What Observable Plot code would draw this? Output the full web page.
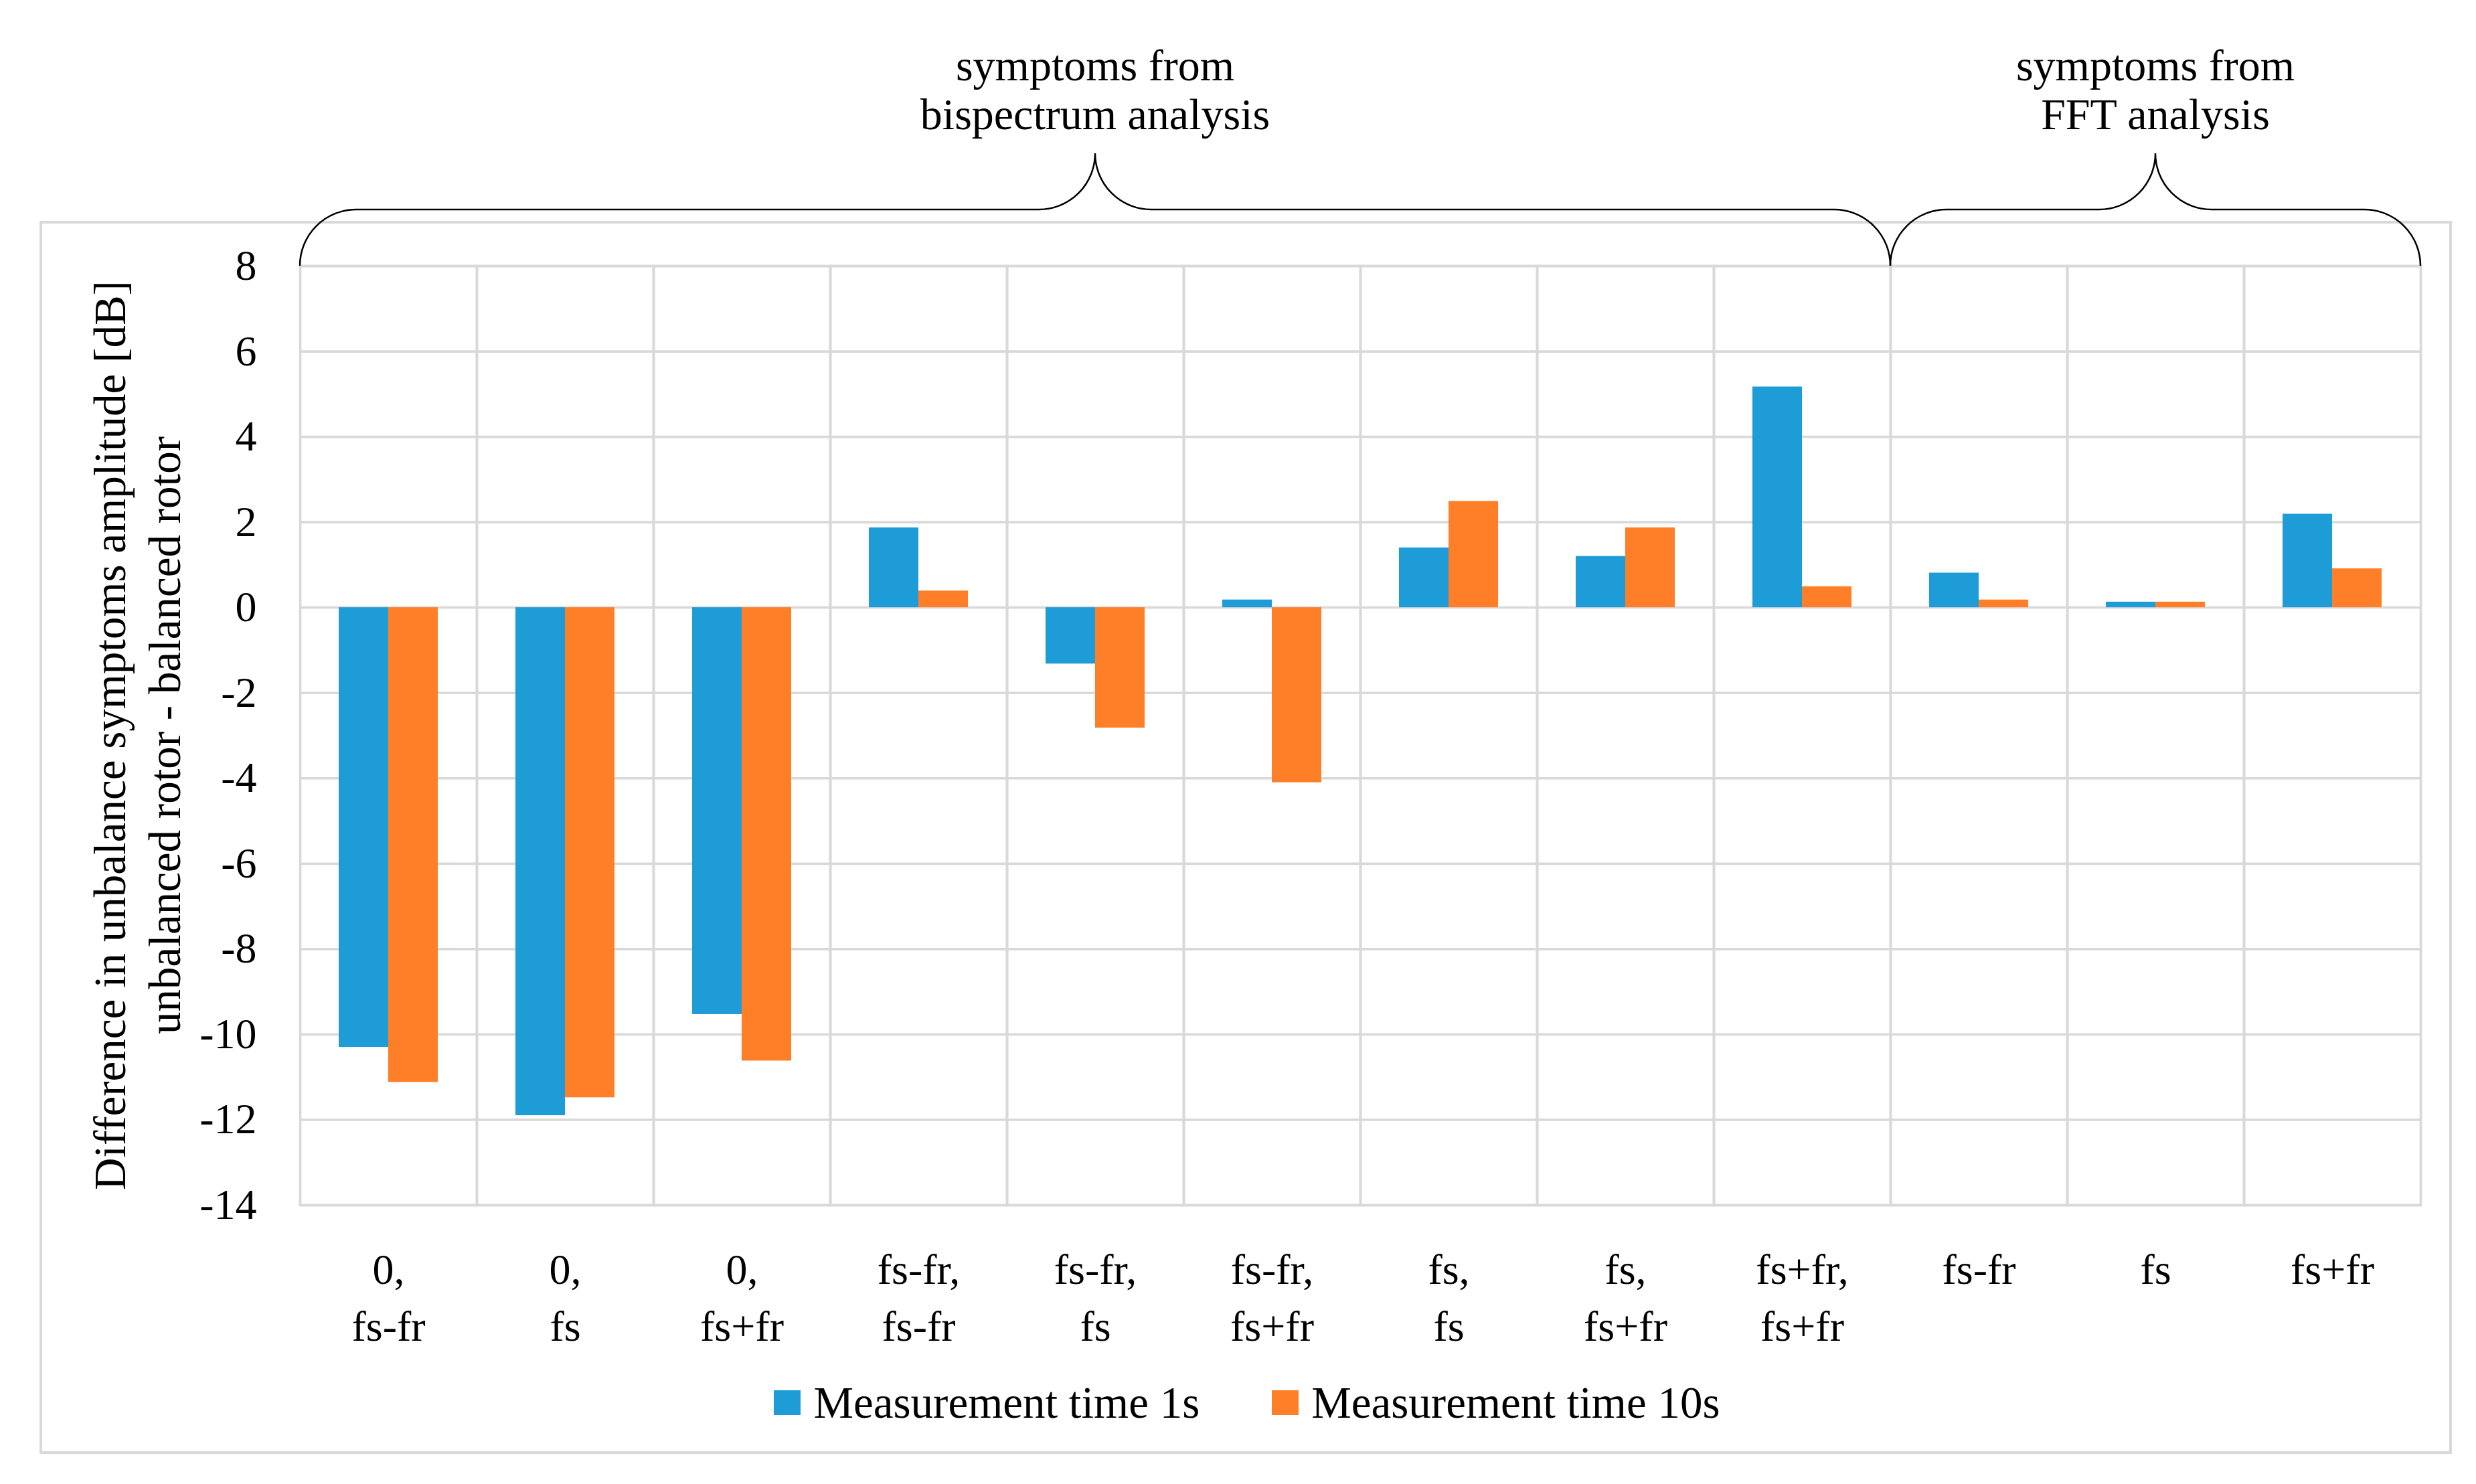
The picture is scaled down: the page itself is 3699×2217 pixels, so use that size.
<!DOCTYPE html>
<html>
<head>
<meta charset="utf-8">
<script src="https://cdn.jsdelivr.net/npm/d3@7"></script>
<script src="https://cdn.jsdelivr.net/npm/@observablehq/plot@0.6"></script>
<style>
  html, body { margin: 0; padding: 0; background: #ffffff; }
  body { width: 3699px; height: 2217px; overflow: hidden; position: relative; font-family: "Liberation Serif", "DejaVu Serif", serif; color: #000; }
  #frame { position: absolute; left: 59px; top: 330px; width: 3604px; height: 1842px; border: 4px solid #d9d9d9; box-sizing: border-box; }
  #chart { position: absolute; left: 0; top: 0; }
  #legend { position: absolute; left: 61px; top: 2062px; width: 3604px; height: 67px; display: flex; justify-content: center; align-items: center; font-size: 67px; line-height: 1; }
  .item { display: flex; align-items: center; margin: 0 54px; }
  .sw { width: 40px; height: 37px; margin-right: 19px; }
</style>
</head>
<body>
<div id="frame"></div>
<div id="chart"></div>
<div id="legend"></div>
<script>
// ---- data ----
const categories = [
  "0,\nfs-fr", "0,\nfs", "0,\nfs+fr",
  "fs-fr,\nfs-fr", "fs-fr,\nfs", "fs-fr,\nfs+fr",
  "fs,\nfs", "fs,\nfs+fr", "fs+fr,\nfs+fr",
  "fs-fr", "fs", "fs+fr"
];
const series = ["Measurement time 1s", "Measurement time 10s"];
const values1s  = [-10.30, -11.90, -9.53, 1.87, -1.32, 0.18, 1.40, 1.20, 5.17, 0.81, 0.13, 2.19];
const values10s = [-11.12, -11.48, -10.62, 0.39, -2.82, -4.10, 2.49, 1.87, 0.49, 0.18, 0.13, 0.91];
const yTicks = [8, 6, 4, 2, 0, -2, -4, -6, -8, -10, -12, -14];
const colors = ["#1d9cd8", "#fe7f27"];
const yTitle = ["Difference in unbalance symptoms amplitude [dB]", "unbalanced rotor - balanced rotor"];
const groupLabels = [["symptoms from", "bispectrum analysis"], ["symptoms from", "FFT analysis"]];
const groupSpans = [[0, 8], [9, 11]];

const seriesValues = [values1s, values10s];
const data = categories.flatMap((c, i) => series.map((s, k) => ({cat: c, series: s, value: seriesValues[k][i]})));

const FONT = "'Liberation Serif', 'DejaVu Serif', serif";
const GRID = "#d9d9d9";

const plot = Plot.plot({
  width: 3699,
  height: 2030,
  marginTop: 397,
  marginBottom: 230,
  marginLeft: 445,
  marginRight: 80,
  style: {fontFamily: FONT, fontSize: "64px", background: "none", color: "#000", maxWidth: "none", overflow: "visible"},
  fx: {domain: categories, padding: 0, label: null},
  x: {domain: series, paddingInner: 0, paddingOuter: 0.763, axis: null},
  y: {domain: [-14, 8], label: null},
  color: {domain: series, range: colors},
  marks: [
    Plot.gridY(yTicks, {stroke: GRID, strokeOpacity: 1, strokeWidth: 3.7}),
    Plot.frame({stroke: GRID, strokeWidth: 3.7}),
    Plot.barY(data, {fx: "cat", x: "series", y: "value", fill: "series"}),
    Plot.axisY(yTicks, {tickSize: 0, tickPadding: 65, fontSize: 64, tickFormat: d => String(d), label: null, fill: "#000"}),
    Plot.axisFx({anchor: "bottom", tickSize: 0, tickPadding: 58, fontSize: 64, lineHeight: 1.32, label: null, tickFormat: d => d, fill: "#000"})
  ]
});
document.getElementById("chart").appendChild(plot);

// ---- annotations derived from the plot's scales ----
const svg = d3.select(plot);
const fx = plot.scale("fx");
const y = plot.scale("y");
const yb = y.apply(8);
const r = 84;
const yh = yb - r;
const yp = yb - 2 * r;
const ann = svg.append("g");
groupSpans.forEach(([a, b], gi) => {
  const x0 = fx.apply(categories[a]);
  const x1 = fx.apply(categories[b]) + fx.bandwidth;
  const xp = (x0 + x1) / 2;
  const d = `M${x0},${yb} A${r},${r} 0 0 1 ${x0 + r},${yh} L${xp - r},${yh} A${r},${r} 0 0 0 ${xp},${yp} A${r},${r} 0 0 0 ${xp + r},${yh} L${x1 - r},${yh} A${r},${r} 0 0 1 ${x1},${yb}`;
  ann.append("path").attr("d", d).attr("fill", "none").attr("stroke", "#000").attr("stroke-width", 2.5);
  const t = ann.append("text").attr("text-anchor", "middle").attr("font-family", FONT).attr("font-size", 66).attr("fill", "#000");
  groupLabels[gi].forEach((line, li) => {
    t.append("tspan").attr("x", xp).attr("y", yb - 277 + li * 73).text(line);
  });
});
// y-axis title (two lines, rotated)
const yMid = (y.apply(8) + y.apply(-14)) / 2;
[187, 269].forEach((bx, i) => {
  svg.append("text")
    .attr("transform", `translate(${bx},${yMid}) rotate(-90)`)
    .attr("text-anchor", "middle")
    .attr("font-family", FONT).attr("font-size", 67).attr("fill", "#000")
    .text(yTitle[i]);
});

// ---- legend ----
const legend = document.getElementById("legend");
series.forEach((s, i) => {
  const item = document.createElement("div");
  item.className = "item";
  const sw = document.createElement("div");
  sw.className = "sw";
  sw.style.background = colors[i];
  const label = document.createElement("span");
  label.textContent = s;
  item.appendChild(sw);
  item.appendChild(label);
  legend.appendChild(item);
});
</script>
</body>
</html>
